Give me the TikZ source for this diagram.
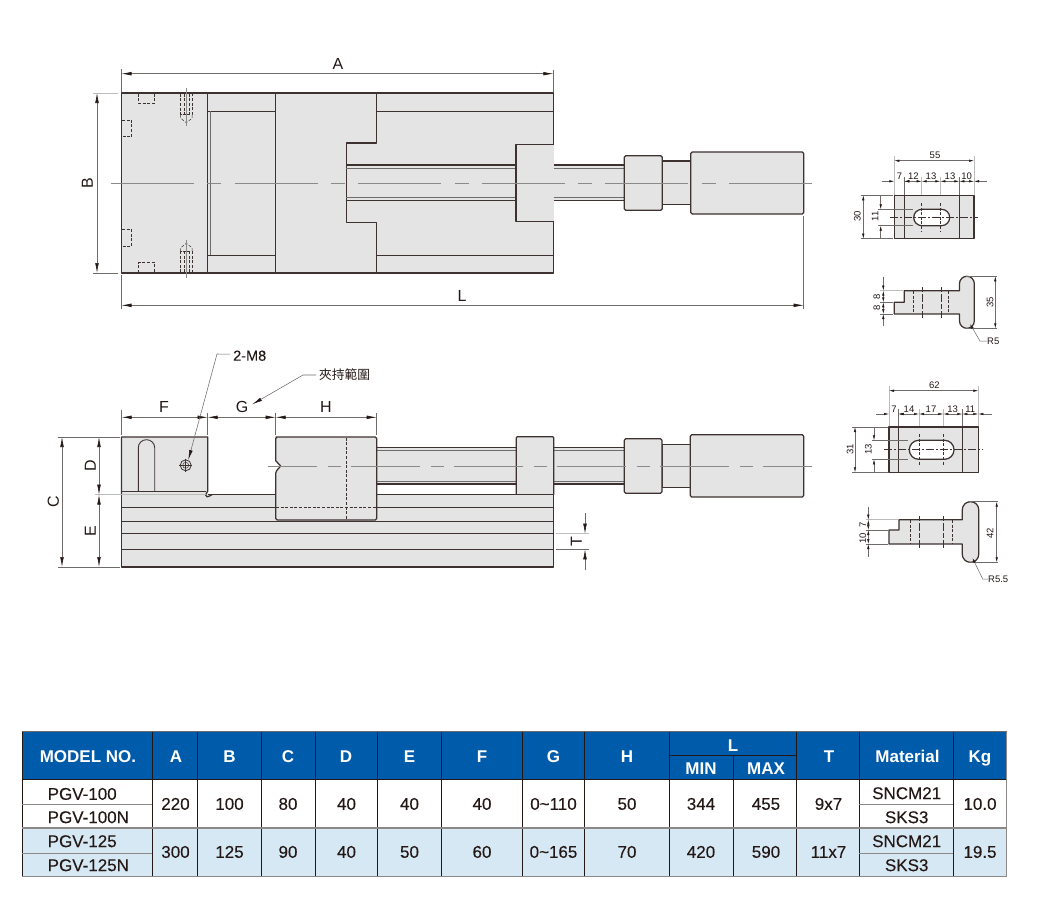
\documentclass[tikz,border=0pt]{standalone}
\usepackage{fontspec}
\setmainfont{Liberation Sans}
\newfontfamily\cjk{Noto Sans CJK TC}
\newfontfamily\cellfont[FakeBold=0.12]{Liberation Sans}
\usetikzlibrary{arrows.meta}
\definecolor{ink}{HTML}{231815}
\definecolor{edge}{HTML}{3E3231}
\definecolor{metal}{HTML}{E4E4E5}
\definecolor{thin}{HTML}{6F6B6A}
\definecolor{pale}{HTML}{BDBCBC}
\definecolor{centreline}{HTML}{8C8A89}
\definecolor{headblue}{HTML}{005BAB}
\definecolor{rowblue}{HTML}{D6E8F4}
\newcommand\fs[1]{\fontsize{#1}{#1}\selectfont}
\tikzset{
  bigtip/.tip={Latex[length=10pt,width=3.6pt,color=ink]},
  smalltip/.tip={Latex[length=5pt,width=2.4pt,color=ink]},
  outline/.style={draw=edge,line width=1.25pt,line join=round},
  body/.style={outline,fill=metal},
  inner/.style={draw=edge,line width=.7pt},
  hair/.style={draw=thin,line width=.55pt},
  paleline/.style={draw=pale,line width=.9pt},
  hid/.style={draw=edge,line width=.5pt,dash pattern=on 3pt off 1.6pt},
  centre/.style={draw=centreline,line width=.8pt},
  dimen/.style={draw=thin,line width=.55pt,bigtip-bigtip},
  dimend/.style={draw=thin,line width=.55pt,-bigtip},
  dimsm/.style={draw=thin,line width=.5pt,smalltip-smalltip},
  dimsmend/.style={draw=thin,line width=.5pt,-smalltip},
  big/.style={text=ink,font=\fs{16},inner sep=0pt,text height=11.5pt,text depth=0pt},
  small/.style={text=ink,font=\fs{9.5},inner sep=0pt,text height=6.8pt,text depth=0pt},
  hdr/.style={text=white,font=\bfseries\fs{17},inner sep=0pt,text height=12.2pt,text depth=0pt},
  cel/.style={text=ink,font=\cellfont\fs{17},inner sep=0pt,text height=12.2pt,text depth=0pt},
}
\begin{document}
\begin{tikzpicture}[x=1pt,y=-1pt]
\useasboundingbox (0,0) rectangle (1044,921);
\fill[white] (0,0) rectangle (1044,921);

%% ---------- plan view ----------
\path[fill=metal] (553.7,165) rectangle (624.3,200.5);
\draw[body] (121.5,93) rectangle (553.7,273);
% rails
\draw[draw=edge,line width=.9pt] (207.7,111) -- (275.7,111) (376.7,111) -- (553.7,111);
\draw[inner,line width=.55pt] (207.7,255) -- (275.7,255) (376.7,255) -- (553.7,255);
\draw[hair] (210.3,111) -- (210.3,255);
% jaw dividers
\draw[outline] (207.7,93) -- (207.7,273);
\draw[outline] (275.7,93) -- (275.7,273);
\draw[outline] (376.7,93) -- (376.7,143) -- (346.3,143) -- (346.3,222.7) -- (376.7,222.7) -- (376.7,273);
% lead-screw groove
\draw[outline] (346.3,165) -- (516,165) (346.3,200.5) -- (516,200.5);
\draw[hair,line width=.8pt] (346.3,168) -- (516,168) (346.3,197.8) -- (516,197.8);
\draw[body] (553.7,144.3) -- (516,144.3) -- (516,221.7) -- (553.7,221.7);
% rod
\draw[outline] (553.7,165) -- (624.3,165) (553.7,200.5) -- (624.3,200.5);
\draw[hair,line width=.8pt] (553.7,168) -- (624.3,168) (553.7,197.8) -- (624.3,197.8);
% collar, neck, handle
\draw[body] (662.3,161) rectangle (690.7,204.7);
\draw[body,rounded corners=1.5pt] (624.3,155.7) rectangle (662.3,210.3);
\draw[body,rounded corners=1.5pt] (690.7,152) rectangle (803.7,214);
% bolts
\foreach \s/\a/\b/\c/\d in {1/93.7/114.7/122.7/88, 2/272.3/251.3/243.3/278}{
  \draw[hid] (180.7,\a) -- (180.7,\b) -- (192,\b) -- (192,\a);
  \draw[hid] (180.7,\b) -- (180.7,{\b+(\c-\b)*0.45}) -- (186.3,\c) -- (192,{\b+(\c-\b)*0.45}) -- (192,\b);
  \draw[hid] (184,\a) -- (184,\b) (189,\a) -- (189,\b);
  \draw[centre,line width=.5pt] (186.3,\d) -- (186.3,{\c+(\c-\d)*0.1});
}
% hidden keys
\draw[hid] (138.3,93.5) -- (138.3,103) -- (154.7,103) -- (154.7,93.5);
\draw[hid] (138.3,272.5) -- (138.3,262.7) -- (154.7,262.7) -- (154.7,272.5);
\draw[hid] (122,120.3) -- (131.7,120.3) -- (131.7,136.7) -- (122,136.7);
\draw[hid] (122,229.7) -- (131.7,229.7) -- (131.7,246) -- (122,246);
% centre line
\draw[centre,dash pattern=on 83pt off 13.3pt on 14pt off 13.3pt] (111,183) -- (811.7,183);
% dimensions
\draw[hair] (121.5,69) -- (121.5,92) (553.3,70) -- (553.3,92);
\draw[hair] (121.5,275) -- (121.5,309) (803.7,216) -- (803.7,309);
\draw[paleline] (93,93) -- (118,93);
\draw[hair] (93,273) -- (118,273);
\draw[dimen] (121.5,73.7) -- (553.3,73.7);
\draw[dimen] (121.5,305.3) -- (803.7,305.3);
\draw[dimen] (97,93) -- (97,273);
\node[big] (lA) at (338,64) {A};
\node[big] (lL) at (462,296) {L};
\node[big,rotate=90] (lB) at (87,183) {B};

%% ---------- front view ----------
% base
\draw[body] (207.7,494.7) -- (553.7,494.7) -- (553.7,567) -- (121.5,567) -- (121.5,494.7) -- cycle;
\draw[inner,line width=.9pt] (121.5,507) -- (553.7,507);
\draw[inner,line width=.9pt] (121.5,521) -- (553.7,521);
\draw[inner,line width=1pt] (121.5,533.7) -- (553.7,533.7);
\draw[inner,line width=.8pt] (121.5,549.7) -- (553.7,549.7);
% fixed jaw
\path[fill=metal] (121.5,437) rectangle (207.7,494.7);
\draw[outline] (121.5,494.7) -- (121.5,437) -- (207.7,437) -- (207.7,491)
   .. controls (207.7,493) and (205.5,493) .. (205.5,495)
   .. controls (205.5,497) and (208.5,497.5) .. (209.5,496)
   .. controls (210,495) and (210.5,494.7) .. (212,494.7);
\draw[outline] (121.5,491.7) -- (205.5,491.7);
\draw[outline,line width=.9pt,rounded corners=8pt] (138.3,491.7) -- (138.3,439.7) -- (154.7,439.7) -- (154.7,491.7);
\draw[outline,line width=.8pt] (185.7,465.3) circle[radius=5.5pt];
\draw[inner,line width=.5pt] (185.7,465.3) circle[radius=3pt];
\draw[inner,line width=.5pt] (179,465.3) -- (192.4,465.3) (185.7,458.6) -- (185.7,472);
% rod
\path[fill=metal] (376.7,447.5) rectangle (624.3,484);
\draw[outline] (376.7,447.5) -- (516.3,447.5) (376.7,484) -- (516.3,484);
\draw[hair,line width=.8pt] (376.7,450.7) -- (516.3,450.7) (376.7,481) -- (516.3,481);
\draw[outline] (553.7,447.5) -- (624.3,447.5) (553.7,484) -- (624.3,484);
\draw[hair,line width=.8pt] (553.7,450.7) -- (624.3,450.7) (553.7,481) -- (624.3,481);
% movable jaw
\draw[body,rounded corners=1.5pt] (275.7,437) -- (376.7,437) -- (376.7,520) -- (275.7,520) -- (275.7,471.7) [sharp corners] -- (280.7,466) -- (275.7,460.7) [rounded corners=1.5pt] -- (275.7,437) -- (280,437);
\draw[hid,line width=.55pt] (346.3,437.5) -- (346.3,520);
\draw[hid,line width=.55pt] (276,507) -- (376.5,507);
% block
\draw[body,rounded corners=1pt] (516.3,494.7) -- (516.3,436.7) -- (553.7,436.7) -- (553.7,494.7);
\draw[body] (662,444.3) rectangle (690.3,487.7);
\draw[body,rounded corners=1.5pt] (624.3,438.7) rectangle (662,493.3);
\draw[body,rounded corners=1.5pt] (690.3,434.7) rectangle (803.7,497);
\draw[outline] (516.3,494.7) -- (553.7,494.7);
\draw[outline] (553.7,494) -- (553.7,567);
% centre line
\draw[centre,dash pattern=on 69pt off 11pt on 13pt off 10pt,dash phase=20pt] (268.3,466) -- (811.7,466);
% dimensions
\draw[hair] (121.7,410) -- (121.7,435) (207.7,413) -- (207.7,435) (275.7,413) -- (275.7,435) (376.7,413) -- (376.7,435);
\draw[dimen] (121.7,417.3) -- (207.7,417.3);
\draw[dimen] (207.7,417.3) -- (275.7,417.3);
\draw[dimen] (275.7,417.3) -- (376.7,417.3);
\node[big] (lF) at (164,407) {F};
\node[big] (lG) at (242,407) {G};
\node[big] (lH) at (326,407) {H};
\draw[hair] (58,437) -- (120,437) (58,567) -- (120,567);
\draw[paleline] (95,494.7) -- (206,494.7);
\draw[dimen] (62,437) -- (62,567);
\draw[dimen] (99,437) -- (99,494.7);
\draw[dimen] (99,494.7) -- (99,567);
\node[big,rotate=90] (lC) at (53,502) {C};
\node[big,rotate=90] (lD) at (90,466) {D};
\node[big,rotate=90] (lE) at (90,531) {E};
\draw[paleline] (556.3,533.7) -- (589,533.7);
\draw[hair] (556.3,549.3) -- (589,549.3);
\draw[dimend] (585,513) -- (585,533.7);
\draw[dimend] (585,570) -- (585,549.3);
\node[big,rotate=90] (lT) at (576,541.5) {T};
% leaders
\node[text=ink,font=\cellfont\fs{14.5},inner sep=0pt,anchor=west] (m8) at (233,355.7) {2-M8};
\coordinate (m8a) at (217,354);
\coordinate (m8b) at (188.3,460);
\draw[dimend] (m8.west) ++(-3,-1.5) -- (m8a) -- (m8b);
\node[text=ink,font=\cjk\fs{12.7},inner sep=0pt,anchor=west] (rng) at (319,374.7) {夾持範圍};
\coordinate (rnga) at (303,375);
\coordinate (rngb) at (252.3,404.3);
\draw[dimend] (rng.west) ++(-3,0.3) -- (rnga) -- (rngb);

%% ---------- small jaw plate 1 ----------
\draw[body] (894.3,195.3) rectangle (974,238.7);
\draw[outline] (904.3,195.3) -- (904.3,238.7) (959.3,195.3) -- (959.3,238.7);
\draw[outline,fill=white,rounded corners=8.2pt] (913.7,209.3) rectangle (949.7,225.7);
\draw[draw=edge,line width=.45pt,dash pattern=on 8pt off 2pt on 2pt off 2pt] (890,217.3) -- (978,217.3);
\draw[hid] (921.7,203) -- (921.7,231) (940.3,203) -- (940.3,231);
\draw[paleline] (894.3,156) -- (894.3,195) (974,156) -- (974,195) (921.7,177) -- (921.7,195) (940.3,177) -- (940.3,195);
\draw[hair] (904.3,177) -- (904.3,195) (959.3,177) -- (959.3,195);
\draw[dimsm] (894.3,160.7) -- (974,160.7);
\node[small] (d55) at (935,155) {55};
\draw[dimsmend] (881.7,181.3) -- (894.3,181.3);
\draw[dimsmend] (917,181.3) -- (904.3,181.3);
\draw[dimsm] (904.3,181.3) -- (921.7,181.3);
\draw[dimsm] (921.7,181.3) -- (940.3,181.3);
\draw[dimsm] (940.3,181.3) -- (959.3,181.3);
\draw[dimsm] (959.3,181.3) -- (974,181.3);
\draw[dimsmend] (986.7,181.3) -- (974,181.3);
\node[small] (d7) at (899.5,176) {7};
\node[small] (d12) at (913.3,176) {12};
\node[small] (d13a) at (931,176) {13};
\node[small] (d13b) at (950,176) {13};
\node[small] (d10) at (966.7,176) {10};
\draw[hair] (860.7,195.3) -- (893,195.3) (860.7,238.7) -- (893,238.7);
\draw[hair] (878,209.3) -- (913,209.3) (878,225.7) -- (913,225.7);
\draw[dimsm] (863.3,195.3) -- (863.3,238.7);
\draw[dimsmend] (880.7,195.3) -- (880.7,209.3);
\draw[dimsmend] (880.7,238.7) -- (880.7,225.7);
\node[small,rotate=90] (d30) at (857.3,216.7) {30};
\node[small,rotate=90] (d11) at (875,216.3) {11};

%% side of plate 1
\draw[body] (894.3,314) -- (894.3,302.3) -- (904.3,302.3) -- (904.3,290.7) -- (959.5,290.7)
  [rounded corners=7.3pt] -- (959.5,276.3) -- (974.3,276.3) -- (974.3,328.3) -- (959.5,328.3) [sharp corners] -- (959.5,314) -- cycle;
\draw[hid] (913.7,291) -- (913.7,314) (948.7,291) -- (948.7,314);
\draw[draw=edge,line width=.55pt,dash pattern=on 5pt off 2pt on 8pt off 2pt] (922.5,287) -- (922.5,318) (941,287) -- (941,318);
\draw[paleline] (880,290.7) -- (903,290.7);
\draw[hair] (880,302.3) -- (893,302.3) (880,314) -- (893,314);
\draw[hair] (966,276.3) -- (997,276.3) (966,328.3) -- (997,328.3);
\draw[dimsmend] (883.3,277.3) -- (883.3,290.7);
\draw[dimsm] (883.3,290.7) -- (883.3,302.3);
\draw[dimsm] (883.3,302.3) -- (883.3,314);
\draw[dimsmend] (883.3,326) -- (883.3,314);
\draw[dimsm] (995.3,276.3) -- (995.3,328.3);
\node[small,rotate=90] (d8a) at (876.7,296.7) {8};
\node[small,rotate=90] (d8b) at (876.7,307.7) {8};
\node[small,rotate=90] (d35) at (990,302.3) {35};
\node[small,anchor=west] (r5) at (987,341) {R5};
\coordinate (r5a) at (980,341);
\coordinate (r5b) at (970,324);
\draw[dimsmend] (r5.west) -- (r5a) -- (r5b);

%% ---------- small jaw plate 2 ----------
\draw[body] (889,427) rectangle (978.3,472.3);
\draw[outline] (898.7,427) -- (898.7,472.3) (962.3,427) -- (962.3,472.3);
\draw[outline,fill=white,rounded corners=9.4pt] (909.3,440.3) rectangle (954,459.3);
\draw[draw=edge,line width=.45pt,dash pattern=on 8pt off 2pt on 2pt off 2pt] (884,449.3) -- (982.7,449.3);
\draw[hid] (919,434) -- (919,466) (943.3,434) -- (943.3,466);
\draw[paleline] (889,386) -- (889,426) (978.3,386) -- (978.3,426) (919,409) -- (919,426) (943.3,409) -- (943.3,426);
\draw[hair] (898.7,409) -- (898.7,426) (962.3,409) -- (962.3,426);
\draw[dimsm] (889,390.7) -- (978.3,390.7);
\node[small] (d62) at (934.3,385) {62};
\draw[dimsmend] (876,414) -- (889,414);
\draw[dimsmend] (912,414) -- (898.7,414);
\draw[dimsm] (898.7,414) -- (919,414);
\draw[dimsm] (919,414) -- (943.3,414);
\draw[dimsm] (943.3,414) -- (962.3,414);
\draw[dimsm] (962.3,414) -- (978.3,414);
\draw[dimsmend] (991.7,414) -- (978.3,414);
\node[small] (e7) at (894,408.7) {7};
\node[small] (e14) at (909,408.7) {14};
\node[small] (e17) at (931,408.7) {17};
\node[small] (e13) at (952.7,408.7) {13};
\node[small] (e11) at (970.3,408.7) {11};
\draw[hair] (852,427) -- (888,427) (852,472.3) -- (888,472.3);
\draw[hair] (872,440.3) -- (908,440.3) (872,459.3) -- (908,459.3);
\draw[dimsm] (855,427) -- (855,472.3);
\draw[dimsmend] (874,427) -- (874,440.3);
\draw[dimsmend] (874,472) -- (874,459.3);
\node[small,rotate=90] (e31) at (850,449) {31};
\node[small,rotate=90] (e13b) at (868.3,449) {13};

%% side of plate 2
\draw[body] (889,544) -- (889,530) -- (899,530) -- (899,519.7) -- (962.3,519.7)
  [rounded corners=8pt] -- (962.3,501.7) -- (978.7,501.7) -- (978.7,562.3) -- (962.3,562.3) [sharp corners] -- (962.3,544) -- cycle;
\draw[hid] (910,520) -- (910,544) (952.7,520) -- (952.7,544);
\draw[draw=edge,line width=.55pt,dash pattern=on 5pt off 2pt on 8pt off 2pt] (919,516) -- (919,548) (943.3,516) -- (943.3,548);
\draw[paleline] (866,519.7) -- (898,519.7);
\draw[hair] (866,530) -- (888,530) (866,544) -- (888,544);
\draw[hair] (968,501.7) -- (998,501.7) (968,562.3) -- (998,562.3);
\draw[dimsmend] (868.3,506.7) -- (868.3,519.7);
\draw[dimsm] (868.3,519.7) -- (868.3,530);
\draw[dimsm] (868.3,530) -- (868.3,544);
\draw[dimsmend] (868.3,556.7) -- (868.3,544);
\draw[dimsm] (996.7,501.7) -- (996.7,562.3);
\node[small,rotate=90] (e7s) at (862.7,525) {7};
\node[small,rotate=90] (e10) at (862.7,538.3) {10};
\node[small,rotate=90] (e42) at (990,533.3) {42};
\node[small,anchor=west] (r55) at (988,579) {R5.5};
\coordinate (r55a) at (982.7,579);
\coordinate (r55b) at (972.5,558);
\draw[dimsmend] (r55.west) -- (r55a) -- (r55b);

%% ---------- table ----------
\fill[headblue] (22.3,731.7) rectangle (1006.7,779.7);
\fill[white] (22.3,779.7) rectangle (1006.7,828);
\fill[rowblue] (22.3,828) rectangle (1006.7,876.7);
\draw[draw=thin,line width=.9pt] (22.3,731.7) -- (1006.7,731.7);
\foreach \x in {22.3,152.3,261.7,315.3,441.7,522.3,584.3,669.3,796.7,859.3,953.3}
  \draw[draw=ink,line width=.7pt] (\x,731.7) -- (\x,876.7);
\foreach \x in {197.7,377.7}
  \draw[draw=ink,line width=.8pt] (\x,731.7) -- (\x,876.7);
\draw[draw=ink,line width=.6pt] (733.3,755.7) -- (733.3,876.7);
\draw[draw=ink,line width=.8pt] (669.3,755.7) -- (796.7,755.7);
\draw[draw=ink,line width=.8pt] (22.3,779.7) -- (1006.7,779.7);
\draw[draw=thin!80,line width=1pt] (22.3,804) -- (152.3,804) (859.3,804) -- (953.3,804);
\draw[draw=thin!80,line width=1pt] (22.3,853) -- (152.3,853) (859.3,853) -- (953.3,853);
\draw[draw=thin!80,line width=1.1pt] (22.3,828) -- (1006.7,828);
\draw[draw=thin!80,line width=1.1pt] (22.3,876.7) -- (1006.7,876.7);
\draw[draw=thin!80,line width=1.1pt] (1006.7,731.7) -- (1006.7,876.7);
% header
\node[hdr] (h0) at (88,756) {MODEL NO.};
\node[hdr] (h1) at (176,756) {A};
\node[hdr] (h2) at (229.5,756) {B};
\node[hdr] (h3) at (288,756) {C};
\node[hdr] (h4) at (346,756) {D};
\node[hdr] (h5) at (409.5,756) {E};
\node[hdr] (h6) at (482,756) {F};
\node[hdr] (h7) at (553.5,756) {G};
\node[hdr] (h8) at (627,756) {H};
\node[hdr] (h9) at (733,745) {L};
\node[hdr] (h10) at (701,768) {MIN};
\node[hdr] (h11) at (766,768) {MAX};
\node[hdr] (h12) at (829,756) {T};
\node[hdr] (h13) at (907.5,756.5) {Material};
\node[hdr] (h14) at (980,756) {Kg};
% models
\node[cel,anchor=west] (m1) at (47.5,793.7) {PGV-100};
\node[cel,anchor=west] (m2) at (47.5,817) {PGV-100N};
\node[cel,anchor=west] (m3) at (47.5,841) {PGV-125};
\node[cel,anchor=west] (m4) at (47.5,865) {PGV-125N};
% row 1
\node[cel] (a1) at (175.5,803.7) {220};
\node[cel] (b1) at (229.5,803.7) {100};
\node[cel] (c1) at (288,803.7) {80};
\node[cel] (d1) at (346.5,803.7) {40};
\node[cel] (e1) at (409.5,803.7) {40};
\node[cel] (f1) at (482,803.7) {40};
\node[cel] (g1) at (553.5,803.7) {0\char`\~110};
\node[cel] (hh1) at (627,803.7) {50};
\node[cel] (i1) at (701,803.7) {344};
\node[cel] (j1) at (766,803.7) {455};
\node[cel] (t1) at (828.5,803.7) {9x7};
\node[cel] (k1) at (906.7,793) {SNCM21};
\node[cel] (k2) at (906.7,817) {SKS3};
\node[cel] (w1) at (980,803.7) {10.0};
% row 2
\node[cel] (a2) at (175.5,851.7) {300};
\node[cel] (b2) at (229.5,851.7) {125};
\node[cel] (c2) at (288,851.7) {90};
\node[cel] (d2) at (346.5,851.7) {40};
\node[cel] (e2) at (409.5,851.7) {50};
\node[cel] (f2) at (482,851.7) {60};
\node[cel] (g2) at (553.5,851.7) {0\char`\~165};
\node[cel] (hh2) at (627,851.7) {70};
\node[cel] (i2) at (701,851.7) {420};
\node[cel] (j2) at (766,851.7) {590};
\node[cel] (t2) at (828.5,851.7) {11x7};
\node[cel] (k3) at (906.7,841) {SNCM21};
\node[cel] (k4) at (906.7,865) {SKS3};
\node[cel] (w2) at (980,851.7) {19.5};
\end{tikzpicture}
\end{document}
